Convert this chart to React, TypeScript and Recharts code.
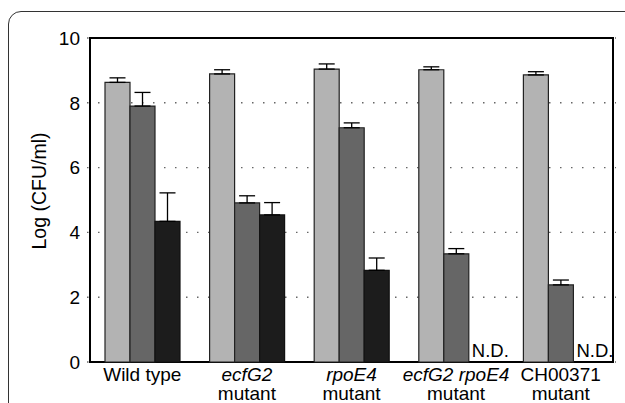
import { Bar, BarChart, CartesianGrid, ErrorBar, LabelList, ReferenceArea, XAxis, YAxis } from 'recharts';

// strains on the x axis (first line, italic flag, second line)
const groups = ['Wild type', 'ecfG2', 'rpoE4', 'ecfG2 rpoE4', 'CH00371'];
const groupItalic = [false, true, true, true, false];
const groupLine2 = ['', 'mutant', 'mutant', 'mutant', 'mutant'];

// Log(CFU/ml) for the three bars of each group, with upward error
const lightValues = [8.63, 8.89, 9.04, 9.02, 8.86];
const lightErrors = [0.14, 0.13, 0.16, 0.09, 0.1];
const midValues = [7.9, 4.91, 7.23, 3.34, 2.38];
const midErrors = [0.42, 0.22, 0.15, 0.16, 0.15];
const darkValues: (number | null)[] = [4.34, 4.54, 2.83, null, null];
const darkErrors: (number | null)[] = [0.88, 0.38, 0.38, null, null];

const yTicks = [0, 2, 4, 6, 8, 10];

const FONT = '"Liberation Sans", Arial, Helvetica, sans-serif';

const data = groups.map((g, i) => ({
  group: g,
  light: lightValues[i],
  lightErr: [0, lightErrors[i]],
  mid: midValues[i],
  midErr: [0, midErrors[i]],
  dark: darkValues[i] ?? 0,
  darkErr: darkErrors[i] == null ? undefined : [0, darkErrors[i]],
  nd: darkValues[i] == null ? 'N.D.' : '',
}));

const GroupTick = (props: any) => {
  const { x, y, payload } = props;
  const i = groups.indexOf(payload.value);
  return (
    <g>
      <text x={x} y={y + 19} textAnchor="middle" fontFamily={FONT} fontSize={19} fill="#000"
        fontStyle={groupItalic[i] ? 'italic' : 'normal'}>
        {payload.value}
      </text>
      {groupLine2[i] && (
        <text x={x} y={y + 38} textAnchor="middle" fontFamily={FONT} fontSize={19} fill="#000">
          {groupLine2[i]}
        </text>
      )}
    </g>
  );
};

// "N.D." drawn in the empty slot right of the mid bar
const NdLabel = (props: any) => {
  const box = props.viewBox ?? props;
  const { value } = props;
  if (!value) return null;
  return (
    <text x={box.x + box.width + 3} y={box.y + box.height - 5} fontFamily={FONT} fontSize={18.5} fill="#000">
      {value}
    </text>
  );
};

export default function App() {
  return (
    <div style={{ position: 'fixed', left: 0, top: 0, width: 625, height: 403, overflow: 'hidden', background: '#fff' }}>
      <div style={{
        position: 'absolute', left: 8, top: 11, width: 700, height: 500,
        border: '1.3px solid #333', borderRadius: 13, boxSizing: 'border-box',
      }} />
      <div style={{ position: 'absolute', left: 0, top: 0 }}>
        <BarChart width={625} height={403} data={data}
          margin={{ top: 38, right: 9, bottom: 1, left: 0 }}
          barSize={25} barGap={0}>
          <CartesianGrid vertical={false} stroke="#666" strokeWidth={1.4} strokeDasharray="1.5 9.5" />
          <XAxis dataKey="group" tick={<GroupTick />} tickLine={false} axisLine={false} height={40}
            padding={{ left: 3, right: 3 }} interval={0} tickSize={0} tickMargin={0} />
          <YAxis domain={[0, 10]} ticks={yTicks} width={87} tickLine={false} axisLine={false}
            tickSize={6} tickMargin={1}
            tick={{ fontFamily: FONT, fontSize: 19, fill: '#000' }}
            label={{ value: 'Log (CFU/ml)', angle: -90, position: 'center', dx: -4, dy: -9,
              style: { fontFamily: FONT, fontSize: 19.5, fill: '#000' } }} />
          <Bar dataKey="light" fill="#b3b3b3" stroke="#222" strokeWidth={1.2} isAnimationActive={false}>
            <ErrorBar dataKey="lightErr" width={8} stroke="#000" strokeWidth={1.3} direction="y" />
          </Bar>
          <Bar dataKey="mid" fill="#666666" stroke="#222" strokeWidth={1.2} isAnimationActive={false}>
            <ErrorBar dataKey="midErr" width={8} stroke="#000" strokeWidth={1.3} direction="y" />
            <LabelList dataKey="nd" content={<NdLabel />} />
          </Bar>
          <Bar dataKey="dark" fill="#1c1c1c" stroke="#111" strokeWidth={1.2} isAnimationActive={false}>
            <ErrorBar dataKey="darkErr" width={8} stroke="#000" strokeWidth={1.3} direction="y" />
          </Bar>
          <ReferenceArea y1={0} y2={10} fill="none" stroke="#000" strokeWidth={2} ifOverflow="visible" />
        </BarChart>
      </div>
    </div>
  );
}
